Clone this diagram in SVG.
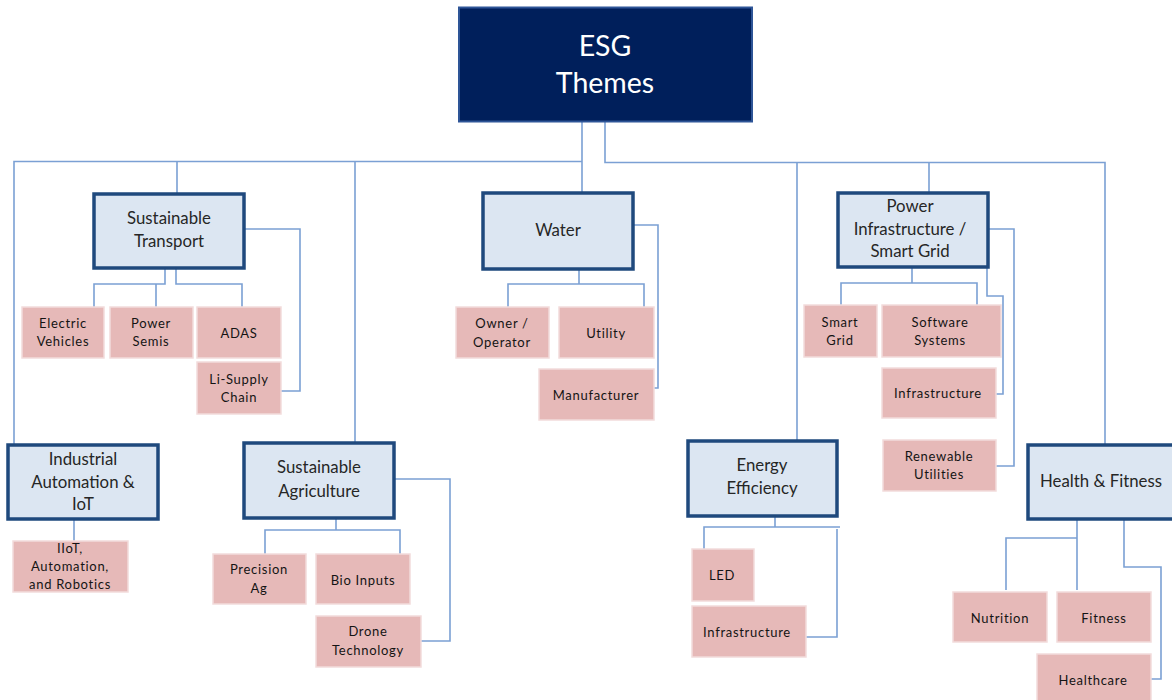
<svg xmlns="http://www.w3.org/2000/svg" width="1172" height="700" viewBox="0 0 1172 700">
<style>
.c{fill:none;stroke:#7BA0D4;stroke-width:1.6}
.m{fill:#DCE6F2;stroke:#1F497D;stroke-width:3.5}
.p{fill:#E6B9B8;stroke:#F2DCDB;stroke-width:1.5}
.mt{font-family:Lato,"Open Sans",sans-serif;font-size:16.8px;fill:#262626;text-anchor:middle}
.pt{font-family:Lato,"Open Sans",sans-serif;font-size:13px;fill:#141414;text-anchor:middle;letter-spacing:0.7px}
.rt{font-family:Lato,"Open Sans",sans-serif;font-size:28.5px;fill:#ffffff;text-anchor:middle}
</style>
<rect width="1172" height="700" fill="#ffffff"/>
<g id="connectors">
<path class="c" d="M582 122V192M582 161.5H14V445M177 161.5V193M355 161.5V442"/>
<path class="c" d="M605 122V162.5H1105V445M797 162.5V440M929 162.5V192"/>
<path class="c" d="M165 268V284H94V307M156 284V307M176 268V284H242V307M244 229H300V391H281"/>
<path class="c" d="M74 519V541"/>
<path class="c" d="M336 518V530H265V554M336 530H400V554M395 479H450V641H421"/>
<path class="c" d="M579 269V284H508V307M579 284H644V307M634 225H658V388H654"/>
<path class="c" d="M912 267V283H841V305M912 283H977V305M987 267V296H1003V394H996M988 229H1014V466H996"/>
<path class="c" d="M775 516V527H704V549M775 527H840M837 529V637H806"/>
<path class="c" d="M1077 519V590M1077 538H1006V590M1124 519V567H1161V679H1151"/>
</g>
<g id="esg">
<rect x="459" y="7.5" width="293" height="114" fill="#001F5B" stroke="#2E5597" stroke-width="2"/>
<text class="rt" x="605" y="56">ESG</text>
<text class="rt" x="605" y="93">Themes</text>
</g>
<g id="sustainable-transport">
<rect class="m" x="94" y="194" width="150" height="74"/>
<text class="mt" x="169" y="224">Sustainable</text>
<text class="mt" x="169" y="247">Transport</text>
</g>
<g id="electric-vehicles">
<rect class="p" x="22" y="307" width="82" height="51"/>
<text class="pt" x="63" y="328">Electric</text>
<text class="pt" x="63" y="346">Vehicles</text>
</g>
<g id="power-semis">
<rect class="p" x="110" y="307" width="83" height="51"/>
<text class="pt" x="151" y="328">Power</text>
<text class="pt" x="151" y="346">Semis</text>
</g>
<g id="adas">
<rect class="p" x="197" y="307" width="84" height="51"/>
<text class="pt" x="239" y="338">ADAS</text>
</g>
<g id="li-supply">
<rect class="p" x="197" y="362" width="84" height="52"/>
<text class="pt" x="239" y="384">Li-Supply</text>
<text class="pt" x="239" y="402">Chain</text>
</g>
<g id="industrial">
<rect class="m" x="8" y="445" width="150" height="74"/>
<text class="mt" x="83" y="465">Industrial</text>
<text class="mt" x="83" y="488">Automation &amp;</text>
<text class="mt" x="83" y="510">IoT</text>
</g>
<g id="iiot">
<rect class="p" x="13" y="541" width="115" height="51"/>
<text class="pt" x="70" y="553">IIoT,</text>
<text class="pt" x="70" y="571">Automation,</text>
<text class="pt" x="70" y="589">and Robotics</text>
</g>
<g id="sustainable-agriculture">
<rect class="m" x="244" y="443" width="150" height="75"/>
<text class="mt" x="319" y="473">Sustainable</text>
<text class="mt" x="319" y="497">Agriculture</text>
</g>
<g id="precision-ag">
<rect class="p" x="213" y="554" width="93" height="50"/>
<text class="pt" x="259" y="574">Precision</text>
<text class="pt" x="259" y="593">Ag</text>
</g>
<g id="bio-inputs">
<rect class="p" x="316" y="554" width="94" height="50"/>
<text class="pt" x="363" y="585">Bio Inputs</text>
</g>
<g id="drone">
<rect class="p" x="316" y="616" width="105" height="51"/>
<text class="pt" x="368" y="636">Drone</text>
<text class="pt" x="368" y="655">Technology</text>
</g>
<g id="water">
<rect class="m" x="483" y="193" width="150" height="76"/>
<text class="mt" x="558" y="236">Water</text>
</g>
<g id="owner-operator">
<rect class="p" x="456" y="307" width="93" height="51"/>
<text class="pt" x="502" y="328">Owner /</text>
<text class="pt" x="502" y="347">Operator</text>
</g>
<g id="utility">
<rect class="p" x="559" y="307" width="95" height="51"/>
<text class="pt" x="606" y="338">Utility</text>
</g>
<g id="manufacturer">
<rect class="p" x="539" y="369" width="115" height="51"/>
<text class="pt" x="596" y="400">Manufacturer</text>
</g>
<g id="energy-efficiency">
<rect class="m" x="688" y="441" width="149" height="75"/>
<text class="mt" x="762" y="471">Energy</text>
<text class="mt" x="762" y="494">Efficiency</text>
</g>
<g id="led">
<rect class="p" x="692" y="549" width="62" height="52"/>
<text class="pt" x="722" y="580">LED</text>
</g>
<g id="ee-infrastructure">
<rect class="p" x="692" y="606" width="114" height="51"/>
<text class="pt" x="747" y="637">Infrastructure</text>
</g>
<g id="power-infrastructure">
<rect class="m" x="838" y="193" width="150" height="74"/>
<text class="mt" x="910" y="212">Power</text>
<text class="mt" x="910" y="235">Infrastructure /</text>
<text class="mt" x="910" y="257">Smart Grid</text>
</g>
<g id="smart-grid">
<rect class="p" x="804" y="305" width="73" height="52"/>
<text class="pt" x="840" y="327">Smart</text>
<text class="pt" x="840" y="345">Grid</text>
</g>
<g id="software-systems">
<rect class="p" x="882" y="305" width="119" height="52"/>
<text class="pt" x="940" y="327">Software</text>
<text class="pt" x="940" y="345">Systems</text>
</g>
<g id="pi-infrastructure">
<rect class="p" x="882" y="368" width="114" height="50"/>
<text class="pt" x="938" y="398">Infrastructure</text>
</g>
<g id="renewable-utilities">
<rect class="p" x="883" y="440" width="113" height="51"/>
<text class="pt" x="939" y="461">Renewable</text>
<text class="pt" x="939" y="479">Utilities</text>
</g>
<g id="health-fitness">
<rect class="m" x="1028" y="445" width="150" height="74"/>
<text class="mt" x="1101" y="487">Health &amp; Fitness</text>
</g>
<g id="nutrition">
<rect class="p" x="953" y="592" width="94" height="50"/>
<text class="pt" x="1000" y="623">Nutrition</text>
</g>
<g id="fitness">
<rect class="p" x="1057" y="592" width="94" height="50"/>
<text class="pt" x="1104" y="623">Fitness</text>
</g>
<g id="healthcare">
<rect class="p" x="1037" y="654" width="114" height="52"/>
<text class="pt" x="1093" y="685">Healthcare</text>
</g>
</svg>
